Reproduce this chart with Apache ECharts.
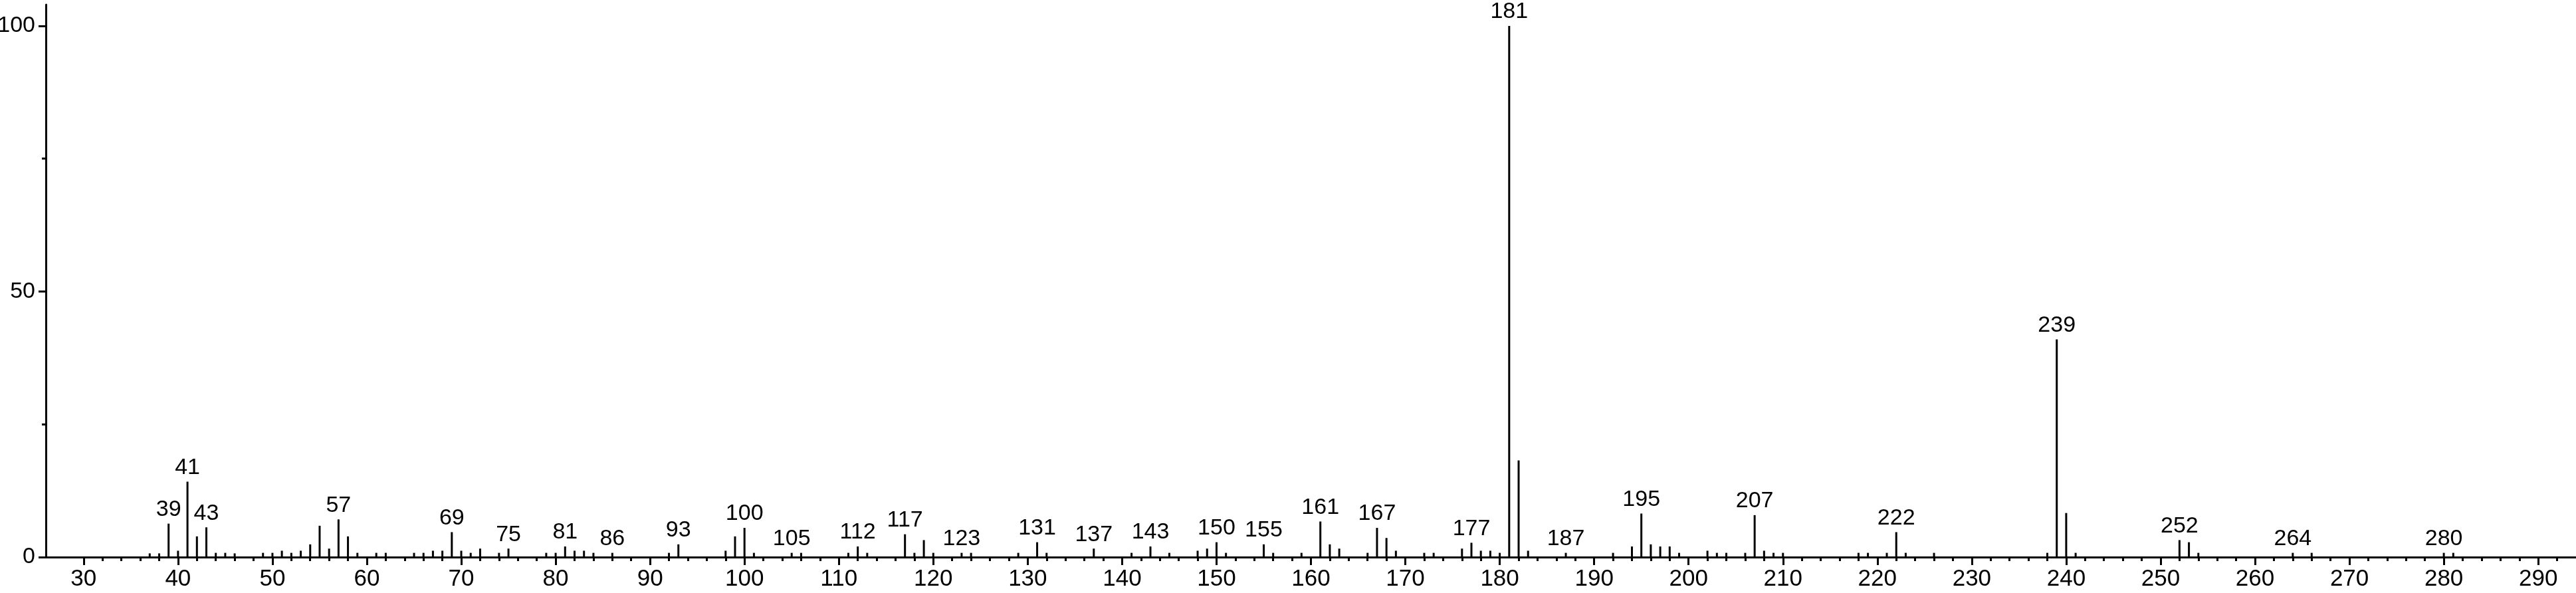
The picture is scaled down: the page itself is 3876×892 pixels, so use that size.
<!DOCTYPE html>
<html>
<head>
<meta charset="utf-8">
<script src="https://cdn.jsdelivr.net/npm/echarts@6/dist/echarts.min.js"></script>
<style>
html,body{margin:0;padding:0;background:#fff;}
#c{width:3876px;height:892px;}
</style>
</head>
<body>
<div id="c"></div>
<script>
const mz = [37,38,39,40,41,42,43,44,45,46,49,50,51,52,53,54,55,56,57,58,59,61,62,65,66,67,68,69,70,71,72,74,75,79,80,81,82,83,84,86,92,93,98,99,100,101,105,106,111,112,113,117,118,119,120,123,124,129,131,132,137,141,143,145,148,149,150,151,155,156,159,161,162,163,166,167,168,169,172,173,176,177,178,179,180,181,182,183,187,192,194,195,196,197,198,199,202,203,204,206,207,208,209,210,218,219,221,222,223,226,238,239,240,241,252,253,254,264,266,280,281];
const intensity = [0.7,0.7,6.3,1.2,14.2,3.9,5.6,0.8,0.8,0.7,0.8,0.8,1.2,0.8,1.2,2.4,5.9,1.6,7.1,3.9,0.8,0.8,0.8,0.8,0.8,1.2,1.2,4.7,1.2,0.8,1.6,0.8,1.6,0.8,0.8,2.0,1.2,1.2,0.8,0.8,0.8,2.4,1.2,3.9,5.5,0.8,0.8,0.8,0.8,2.0,0.8,4.3,0.8,3.2,0.8,0.8,0.8,0.8,2.8,0.8,1.6,0.8,2.0,0.8,1.2,1.6,2.8,0.8,2.4,0.8,0.8,6.7,2.4,1.6,0.8,5.5,3.6,1.2,0.8,0.8,1.6,2.7,1.2,1.2,0.8,100,18.2,1.2,0.8,0.8,2.0,8.2,2.4,2.0,2.0,0.8,1.2,0.8,0.8,0.8,7.9,1.2,0.8,0.8,0.8,0.8,0.8,4.7,0.8,0.8,0.8,41,8.3,0.8,3.2,2.8,0.8,0.8,0.8,0.8,0.8];
const labeledPeaks = [39,41,43,57,69,75,81,86,93,100,105,112,117,123,131,137,143,150,155,161,167,177,181,187,195,207,222,239,252,264,280];
const xTickLabels = [30,40,50,60,70,80,90,100,110,120,130,140,150,160,170,180,190,200,210,220,230,240,250,260,270,280,290];
const xMinorTicks = [32,34,36,38,42,44,46,48,52,54,56,58,62,64,66,68,72,74,76,78,82,84,86,88,92,94,96,98,102,104,106,108,112,114,116,118,122,124,126,128,132,134,136,138,142,144,146,148,152,154,156,158,162,164,166,168,172,174,176,178,182,184,186,188,192,194,196,198,202,204,206,208,212,214,216,218,222,224,226,228,232,234,236,238,242,244,246,248,252,254,256,258,262,264,266,268,272,274,276,278,282,284,286,288,292];
const yTickLabels = [0,50,100];
const yMinorTicks = [25,75];

const FONT = '"Liberation Sans",Arial,sans-serif';
const chart = echarts.init(document.getElementById('c'), null, {renderer:'canvas'});
const data = mz.map((m,i)=>[m,intensity[i]]);
const lineStyle = {color:'#000', width:3};
chart.setOption({
  animation:false,
  backgroundColor:'#fff',
  grid:{left:69, right:0, top:7, bottom:54, containLabel:false, outerBoundsMode:'none'},
  xAxis:[{
    type:'value', min:26, max:294,
    axisLine:{show:true, lineStyle:lineStyle, onZero:false},
    axisTick:{show:true, length:12, lineStyle:{color:'#000', width:3}, customValues:xTickLabels},
    axisLabel:{show:true, color:'#000', fontFamily:FONT, fontSize:35, margin:16, customValues:xTickLabels},
    splitLine:{show:false}
  },{
    type:'value', min:26, max:294, position:'bottom',
    axisLine:{show:false},
    axisTick:{show:true, length:6, lineStyle:{color:'#000', width:3}, customValues:xMinorTicks},
    axisLabel:{show:false},
    splitLine:{show:false}
  }],
  yAxis:[{
    type:'value', min:0, max:104,
    axisLine:{show:true, lineStyle:lineStyle},
    axisTick:{show:true, length:11, lineStyle:{color:'#000', width:3}, customValues:yTickLabels},
    axisLabel:{show:true, color:'#000', fontFamily:FONT, fontSize:34, margin:16, customValues:yTickLabels},
    splitLine:{show:false}
  },{
    type:'value', min:0, max:104, position:'left',
    axisLine:{show:false},
    axisTick:{show:true, length:6, lineStyle:{color:'#000', width:3}, customValues:yMinorTicks},
    axisLabel:{show:false},
    splitLine:{show:false}
  }],
  series:[{
    type:'bar',
    xAxisIndex:0, yAxisIndex:0,
    data:data,
    barWidth:3,
    itemStyle:{color:'#000'},
    label:{
      show:true, position:'top', distance:4, color:'#000',
      fontFamily:FONT, fontSize:34,
      formatter:function(p){ return labeledPeaks.indexOf(p.value[0])>=0 ? String(p.value[0]) : ''; }
    },
    labelLayout:{hideOverlap:false}
  }]
});
</script>
</body>
</html>
